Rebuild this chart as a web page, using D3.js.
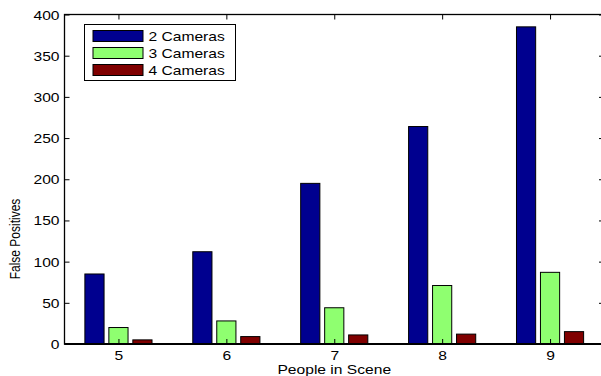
<!DOCTYPE html>
<html>
<head>
<meta charset="utf-8">
<script src="https://cdn.jsdelivr.net/npm/d3@7"></script>
<style>
  html, body { margin: 0; padding: 0; background: #fff; }
  svg { display: block; }
  text { font-family: "Liberation Sans", Arial, Helvetica, sans-serif; fill: #000; }
</style>
</head>
<body>
<svg id="chart" width="601" height="376"></svg>
<script>
// People in the scene (x categories)
const people = [5, 6, 7, 8, 9];
// False positives per camera setup
const cams2 = [85, 112, 195, 264, 385];
const cams3 = [20, 28, 44, 71, 87];
const cams4 = [5, 9, 11, 12, 15];
const seriesNames = ["2 Cameras", "3 Cameras", "4 Cameras"];
const seriesColors = ["#00008f", "#8fff70", "#800000"];
const yTicks = [0, 50, 100, 150, 200, 250, 300, 350, 400];

const series = [cams2, cams3, cams4];
const svg = d3.select("#chart");

const plot = { left: 64.5, right: 604, top: 14.5, bottom: 344 };
const x = d3.scaleLinear().domain([4.5, 9.5]).range([plot.left, plot.right]);
const y = d3.scaleLinear().domain([0, 400]).range([plot.bottom, plot.top]);

// horizontal stretch of the lettering
const SX = 1.25;
const fontSize = 12.5;

// grouped bars: three series, offset 2/9 of a unit, width 0.8 of that
const offset = 2 / 9;
const barW = 0.8 * offset;

series.forEach((vals, si) => {
  svg.append("g").selectAll("rect")
    .data(vals.map((v, i) => ({ x: people[i], v })))
    .join("rect")
    .attr("x", d => x(d.x + (si - 1) * offset - barW / 2))
    .attr("width", d => x(d.x + barW / 2) - x(d.x - barW / 2))
    .attr("y", d => y(d.v))
    .attr("height", d => y(0) - y(d.v))
    .attr("fill", seriesColors[si])
    .attr("stroke", "#000")
    .attr("stroke-width", 1);
});

// left axis, ticks inside
const gy = svg.append("g")
  .attr("transform", `translate(${plot.left},0)`)
  .call(d3.axisLeft(y).tickValues(yTicks).tickSizeInner(-5).tickSizeOuter(0).tickPadding(0));
gy.select(".domain").remove();
gy.selectAll("line").attr("stroke", "#000");
gy.selectAll("text")
  .attr("x", 0).attr("dy", "0.36em")
  .attr("transform", `translate(-5,0) scale(${SX},1)`)
  .style("font-size", fontSize + "px")
  .style("font-family", "'Liberation Sans', Arial, sans-serif");

// right axis ticks (no labels)
const gr = svg.append("g")
  .attr("transform", `translate(${plot.right},0)`)
  .call(d3.axisRight(y).tickValues(yTicks).tickSizeInner(-5).tickSizeOuter(0).tickFormat(""));
gr.select(".domain").remove();
gr.selectAll("line").attr("stroke", "#000");

// bottom axis
const gx = svg.append("g")
  .attr("transform", `translate(0,${plot.bottom})`)
  .call(d3.axisBottom(x).tickValues(people).tickSizeInner(-5).tickSizeOuter(0).tickFormat(d3.format("d")));
gx.select(".domain").remove();
gx.selectAll("line").attr("stroke", "#000");
gx.selectAll("text")
  .attr("y", 0).attr("dy", 0)
  .attr("transform", `translate(0,15.5) scale(${SX},1)`)
  .style("font-size", fontSize + "px")
  .style("font-family", "'Liberation Sans', Arial, sans-serif");

// top axis ticks (no labels)
const gt = svg.append("g")
  .attr("transform", `translate(0,${plot.top})`)
  .call(d3.axisTop(x).tickValues(people).tickSizeInner(-5).tickSizeOuter(0).tickFormat(""));
gt.select(".domain").remove();
gt.selectAll("line").attr("stroke", "#000");

// axes box
svg.append("rect")
  .attr("x", plot.left).attr("y", plot.top)
  .attr("width", plot.right - plot.left).attr("height", plot.bottom - plot.top)
  .attr("fill", "none").attr("stroke", "#000").attr("stroke-width", 1.3);
svg.append("line")
  .attr("x1", plot.left).attr("x2", plot.right)
  .attr("y1", plot.bottom).attr("y2", plot.bottom)
  .attr("stroke", "#000").attr("stroke-width", 2);

// axis titles
svg.append("text")
  .attr("text-anchor", "middle")
  .attr("transform", `translate(${(plot.left + plot.right) / 2},374) scale(${SX},1)`)
  .style("font-size", "12.5px")
  .text("People in Scene");
svg.append("text")
  .attr("text-anchor", "middle")
  .attr("transform", `translate(20,239) scale(${SX},1) rotate(-90)`)
  .style("font-size", "12px")
  .text("False Positives");

// legend
const legend = svg.append("g").attr("transform", "translate(84.5,24.5)");
legend.append("rect")
  .attr("width", 151).attr("height", 56)
  .attr("fill", "#fff").attr("stroke", "#000").attr("stroke-width", 1);
seriesNames.forEach((name, i) => {
  const row = legend.append("g").attr("transform", `translate(0,${6 + i * 17})`);
  row.append("rect")
    .attr("x", 8.5).attr("width", 50).attr("height", 11)
    .attr("fill", seriesColors[i]).attr("stroke", "#000").attr("stroke-width", 1);
  row.append("text")
    .attr("transform", `translate(64,5.5) scale(${SX},1)`)
    .attr("dy", "0.36em")
    .style("font-size", fontSize + "px")
    .text(name);
});
</script>
</body>
</html>
